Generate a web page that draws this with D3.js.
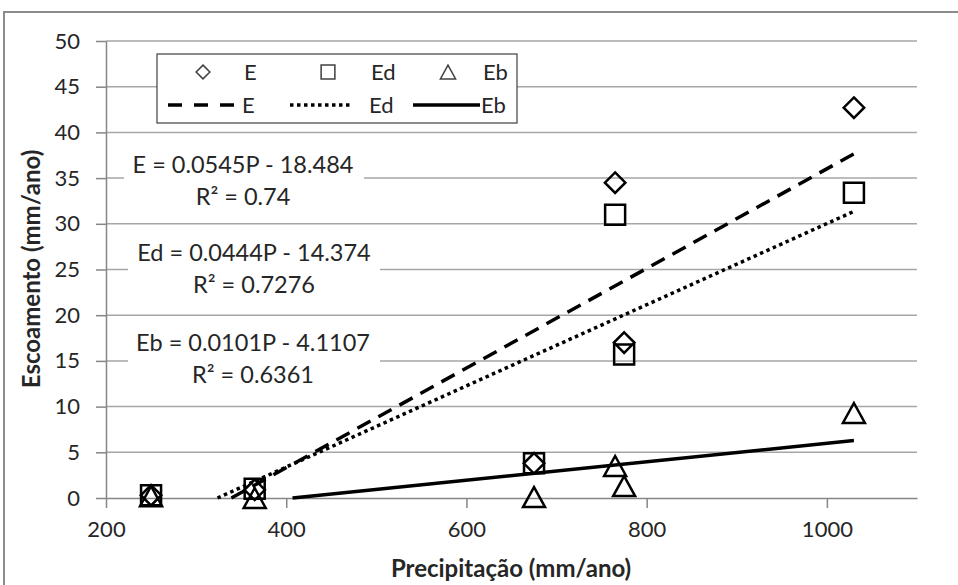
<!DOCTYPE html>
<html>
<head>
<meta charset="utf-8">
<script src="https://cdn.jsdelivr.net/npm/d3@7"></script>
<style>
  body { margin: 0; background: #fff; }
  text { font-family: Lato, "Open Sans", sans-serif; fill: #262626; }
</style>
</head>
<body>
<div class="chart"></div>
<script>
//data
const precip = [250, 365, 675, 765, 775, 1030];
const eVals  = [0.3, 0.9, 3.8, 34.5, 17.0, 42.7];
const edVals = [0.3, 1.0, 3.8, 31.0, 15.7, 33.4];
const ebVals = [0.2, 0.0, 0.1, 3.5, 1.3, 9.3];

//trendlines as printed on the chart
const seriesNames = ['E', 'Ed', 'Eb'];
const slopes = [0.0545, 0.0444, 0.0101];
const intercepts = [-18.484, -14.374, -4.1107];
const r2Labels = ['0.74', '0.7276', '0.6361'];

const xTicks = [200, 400, 600, 800, 1000];
const yTicks = [0, 5, 10, 15, 20, 25, 30, 35, 40, 45, 50];

//Create svg
const W = 958, H = 585;
const svg = d3.select('.chart').append('svg')
  .attr('width', W)
  .attr('height', H);

//chart area border (only top and left are visible in the crop)
svg.append('path')
  .attr('d', `M4,${H + 5}V12H${W + 5}`)
  .attr('fill', 'none')
  .attr('stroke', '#8c8c8c')
  .attr('stroke-width', 2);

//Create linear scales
const xScale = d3.scaleLinear().domain([200, 1100]).range([106, 917]);
const yScale = d3.scaleLinear().domain([0, 50]).range([498, 41]);

//gridlines
svg.append('g')
  .selectAll('line')
  .data(yTicks.filter(d => d > 0))
  .enter()
  .append('line')
  .attr('x1', xScale(200))
  .attr('x2', xScale(1100))
  .attr('y1', d => yScale(d))
  .attr('y2', d => yScale(d))
  .attr('stroke', '#a6a6a6')
  .attr('stroke-width', 1.5);

//Create axis
const xAxis = d3.axisBottom(xScale).tickValues(xTicks).tickFormat(d3.format('d'))
  .tickSize(10).tickSizeOuter(0).tickPadding(13);
const yAxis = d3.axisLeft(yScale).tickValues(yTicks).tickFormat(d3.format('d'))
  .tickSize(10).tickSizeOuter(0).tickPadding(16);

const gx = svg.append('g')
  .attr('class', 'axis x-axis')
  .attr('transform', `translate(0, ${yScale(0)})`)
  .call(xAxis);
const gy = svg.append('g')
  .attr('class', 'axis y-axis')
  .attr('transform', `translate(${xScale(200)}, 0)`)
  .call(yAxis);

[gx, gy].forEach(g => {
  g.select('.domain').attr('stroke', '#868686').attr('stroke-width', 1.5);
  g.selectAll('.tick line').attr('stroke', '#868686').attr('stroke-width', 1.5);
  g.selectAll('.tick text')
    .attr('font-size', 22)
    .attr('font-family', 'Lato')
    .attr('fill', '#262626');
});

//Label axis
svg.append('text')
  .attr('x', 511)
  .attr('y', 577)
  .attr('text-anchor', 'middle')
  .attr('font-size', 24)
  .attr('font-weight', 'bold')
  .text('Precipitação (mm/ano)');
svg.append('text')
  .attr('transform', 'translate(40, 269) rotate(-90)')
  .attr('text-anchor', 'middle')
  .attr('font-size', 24)
  .attr('font-weight', 'bold')
  .text('Escoamento (mm/ano)');

//marker shapes
const diamond = {draw(ctx, s) { const r = Math.sqrt(s) / 2;
  ctx.moveTo(0, -r); ctx.lineTo(r, 0); ctx.lineTo(0, r); ctx.lineTo(-r, 0); ctx.closePath(); }};
const square = {draw(ctx, s) { const r = Math.sqrt(s) / 2;
  ctx.rect(-r, -r, 2 * r, 2 * r); }};
const triangle = {draw(ctx, s) { const h = Math.sqrt(s), w = h * 1.1;
  ctx.moveTo(0, -h / 2); ctx.lineTo(w / 2, h / 2); ctx.lineTo(-w / 2, h / 2); ctx.closePath(); }};

const lineStyles = [
  {dash: '15,9', cap: 'butt'},
  {dash: '3.5,3.5', cap: 'butt'},
  {dash: null, cap: 'butt'}
];

//trend lines, clipped at y = 0 like in the original
const trendG = svg.append('g');
seriesNames.forEach((name, i) => {
  const p0 = Math.max(d3.min(precip), -intercepts[i] / slopes[i]);
  const p1 = d3.max(precip);
  trendG.append('line')
    .attr('x1', xScale(p0))
    .attr('y1', yScale(slopes[i] * p0 + intercepts[i]))
    .attr('x2', xScale(p1))
    .attr('y2', yScale(slopes[i] * p1 + intercepts[i]))
    .attr('stroke', '#000')
    .attr('stroke-width', 3.5)
    .attr('stroke-dasharray', lineStyles[i].dash)
    .attr('stroke-linecap', lineStyles[i].cap);
});

//Encode data into SVG markers
const seriesVals = [eVals, edVals, ebVals];
const shapes = [diamond, square, triangle];
const sizes = [420, 400, 400];
seriesVals.forEach((vals, i) => {
  svg.append('g')
    .selectAll('path')
    .data(vals)
    .enter()
    .append('path')
    .attr('transform', (d, j) => `translate(${xScale(precip[j])}, ${yScale(d)})`)
    .attr('d', d3.symbol().type(shapes[i]).size(sizes[i]))
    .attr('fill', 'none')
    .attr('stroke', '#000')
    .attr('stroke-width', 2.5);
});

//trendline equation labels
const labelBoxes = [
  {x: 124, y: 148, w: 240, h: 64, cx: 243, cy: 165},
  {x: 128, y: 238, w: 252, h: 64, cx: 254, cy: 253},
  {x: 128, y: 328, w: 252, h: 64, cx: 253, cy: 343}
];
seriesNames.forEach((name, i) => {
  const b = labelBoxes[i];
  const sign = intercepts[i] < 0 ? ' - ' : ' + ';
  svg.append('rect')
    .attr('x', b.x).attr('y', b.y)
    .attr('width', b.w).attr('height', b.h)
    .attr('fill', '#fff');
  svg.append('text')
    .attr('x', b.cx).attr('y', b.cy + 8)
    .attr('text-anchor', 'middle')
    .attr('font-size', 23.5)
    .text(`${name} = ${slopes[i]}P${sign}${Math.abs(intercepts[i])}`);
  svg.append('text')
    .attr('x', b.cx).attr('y', b.cy + 40)
    .attr('text-anchor', 'middle')
    .attr('font-size', 23.5)
    .text(`R² = ${r2Labels[i]}`);
});

//Create a legend
const svgLegend = svg.append('g').attr('class', 'legend');
svgLegend.append('rect')
  .attr('x', 157).attr('y', 54)
  .attr('width', 360).attr('height', 69)
  .attr('fill', '#fff')
  .attr('stroke', '#404040')
  .attr('stroke-width', 1.2);

const legendSymX = [203, 328, 448];
const legendLineX = [[168, 237], [290, 350], [413, 480]];
const legendTextX = [242, 369, 481];
seriesNames.forEach((name, i) => {
  svgLegend.append('path')
    .attr('transform', `translate(${legendSymX[i]}, 72)`)
    .attr('d', d3.symbol().type(shapes[i]).size(190))
    .attr('fill', 'none')
    .attr('stroke', '#404040')
    .attr('stroke-width', 1.5);
  svgLegend.append('text')
    .attr('x', legendTextX[i] + 2).attr('y', 72 + 8)
    .attr('font-size', 22)
    .text(name);
  svgLegend.append('line')
    .attr('x1', legendLineX[i][0]).attr('x2', legendLineX[i][1])
    .attr('y1', 105).attr('y2', 105)
    .attr('stroke', '#000')
    .attr('stroke-width', 3.5)
    .attr('stroke-dasharray', i === 0 ? '14,12' : lineStyles[i].dash);
  svgLegend.append('text')
    .attr('x', legendTextX[i]).attr('y', 105 + 8)
    .attr('font-size', 22)
    .text(name);
});
</script>
</body>
</html>
